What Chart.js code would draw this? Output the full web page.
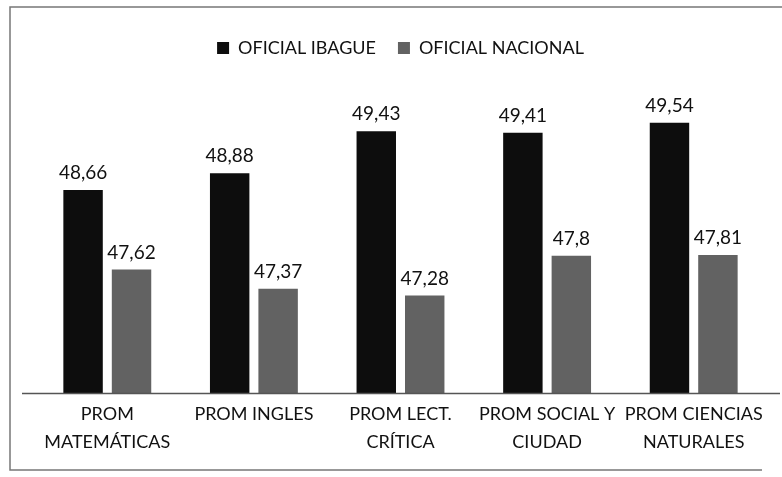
<!DOCTYPE html>
<html>
<head>
<meta charset="utf-8">
<script src="https://cdn.jsdelivr.net/npm/chart.js@4"></script>
<style>
  html, body { margin: 0; padding: 0; background: #fff; }
  #wrap { width: 782px; height: 477px; position: relative; }
</style>
</head>
<body>
<div id="wrap"><canvas id="chart" width="782" height="477"></canvas></div>
<script>
const categories = [
  ["PROM", "MATEMÁTICAS"],
  "PROM INGLES",
  ["PROM LECT.", "CRÍTICA"],
  ["PROM SOCIAL Y", "CIUDAD"],
  ["PROM CIENCIAS", "NATURALES"],
];
const ibague = [48.66, 48.88, 49.43, 49.41, 49.54];
const nacional = [47.62, 47.37, 47.28, 47.8, 47.81];
const seriesNames = ["OFICIAL IBAGUE", "OFICIAL NACIONAL"];

const FONT = "Lato, 'Open Sans', sans-serif";

function fmt(v) {
  return String(v).replace(".", ",");
}

// page frame and long baseline from the scanned figure
const framePlugin = {
  id: "frame",
  beforeDraw(chart) {
    const { ctx } = chart;
    ctx.save();
    ctx.fillStyle = "#fff";
    ctx.fillRect(0, 0, chart.width, chart.height);
    ctx.strokeStyle = "#777";
    ctx.lineWidth = 1.5;
    ctx.beginPath();
    ctx.moveTo(chart.width, 7);
    ctx.lineTo(10, 7);
    ctx.lineTo(10, 470);
    ctx.lineTo(chart.width - 20, 470);
    ctx.stroke();
    ctx.restore();
  },
  afterDatasetsDraw(chart) {
    const { ctx, chartArea } = chart;
    ctx.save();
    ctx.strokeStyle = "#555";
    ctx.lineWidth = 1.5;
    ctx.beginPath();
    ctx.moveTo(22, chartArea.bottom);
    ctx.lineTo(chart.width - 2, chartArea.bottom);
    ctx.stroke();
    ctx.restore();
  },
};

const valueLabels = {
  id: "valueLabels",
  afterDatasetsDraw(chart) {
    const { ctx } = chart;
    ctx.save();
    ctx.font = `19px ${FONT}`;
    ctx.fillStyle = "#111";
    ctx.textAlign = "center";
    ctx.textBaseline = "alphabetic";
    chart.data.datasets.forEach((ds, i) => {
      chart.getDatasetMeta(i).data.forEach((bar, j) => {
        ctx.fillText(fmt(ds.data[j]), bar.x, bar.y - 11);
      });
    });
    ctx.restore();
  },
};

new Chart(document.getElementById("chart"), {
  type: "bar",
  data: {
    labels: categories,
    datasets: [
      { label: seriesNames[0], data: ibague, backgroundColor: "#0d0d0d" },
      { label: seriesNames[1], data: nacional, backgroundColor: "#626262" },
    ],
  },
  options: {
    responsive: false,
    animation: false,
    events: [],
    categoryPercentage: 0.661,
    barPercentage: 0.814,
    layout: { padding: { top: 17, left: 34, right: 15, bottom: 14 } },
    plugins: {
      legend: {
        position: "top",
        labels: {
          font: { family: FONT, size: 18 },
          color: "#111",
          boxWidth: 12,
          boxHeight: 12,
          padding: 22,
        },
      },
      tooltip: { enabled: false },
    },
    scales: {
      x: {
        grid: { display: false, drawTicks: false },
        border: { display: false },
        ticks: {
          font: { family: FONT, size: 18, lineHeight: 1.6 },
          color: "#111",
          padding: 6,
          maxRotation: 0,
        },
      },
      y: {
        display: false,
        min: 46.0,
        max: 50.27,
      },
    },
  },
  plugins: [framePlugin, valueLabels],
});
</script>
</body>
</html>
